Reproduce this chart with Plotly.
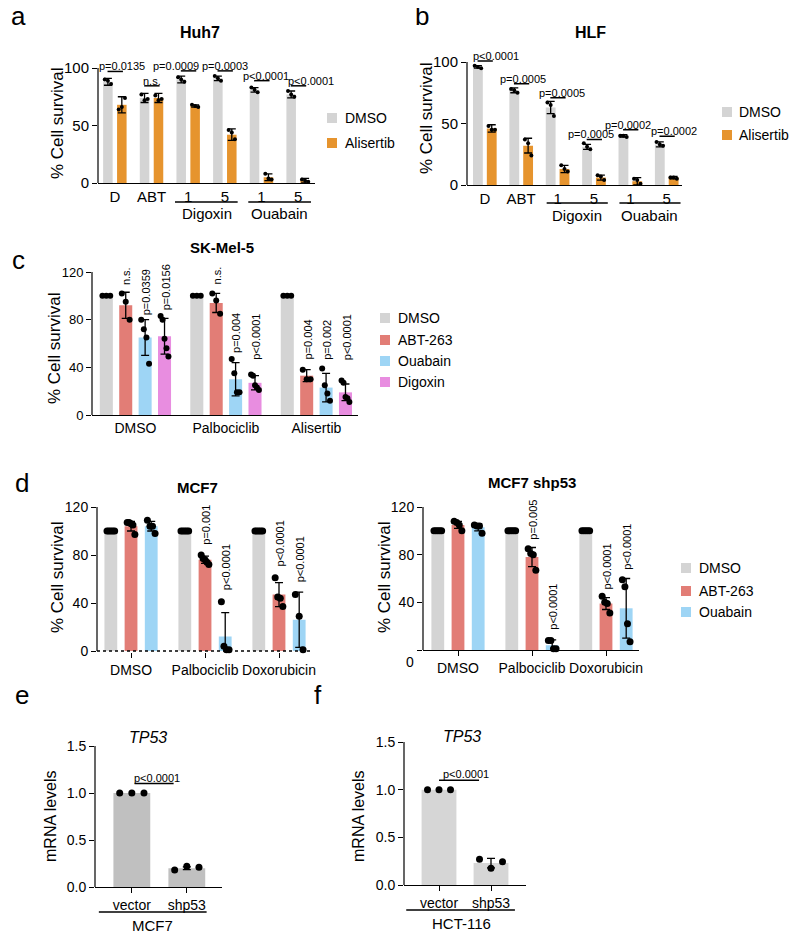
import plotly.graph_objects as go

# ======================= DATA =======================
# Panel a : Huh7
a_ticks = ["D", "ABT", "1", "5", "1", "5"]
a_dmso = [88, 74, 90, 91, 81, 77]
a_dmso_sd = [3, 4, 3, 2, 2, 3]
a_dmso_pts = [[90, 89, 86], [77, 72, 73], [92, 90, 88], [93, 91, 89], [83, 81, 79], [80, 77, 75]]
a_ali = [68, 74, 67, 42, 5, 2]
a_ali_sd = [7, 4, 1, 5, 3, 2]
a_ali_pts = [[64, 66, 74], [76, 72, 73], [68, 67, 66], [46, 44, 38], [8, 4, 3], [3, 2, 1]]
a_pvals = ["p=0.0135", "n.s.", "p=0.0009", "p=0.0003", "p<0.0001", "p<0.0001"]
a_bracket = [97, 84.5, 97.5, 97.5, 89, 84.5]

# Panel b : HLF
b_ticks = ["D", "ABT", "1", "5", "1", "5"]
b_dmso = [96, 77, 63, 31, 40, 33]
b_dmso_sd = [1, 2, 5, 2, 1, 2]
b_dmso_pts = [[97, 96, 95], [78, 77, 75], [67, 65, 56], [34, 31, 29], [40, 40, 39], [35, 33, 32]]
b_ali = [46, 32, 13, 6, 3, 6]
b_ali_sd = [3, 6, 3, 2, 3, 1]
b_ali_pts = [[48, 45, 45], [37, 34, 24], [16, 13, 11], [8, 7, 4], [5, 4, 1], [6, 6, 5]]
b_pvals = ["p<0.0001", "p=0.0005", "p=0.0005", "p=0.0005", "p=0.0002", "p=0.0002"]
b_bracket = [100.8, 82.4, 71, 37, 45, 39.7]

# Panel c : SK-Mel-5
c_groups = ["DMSO", "Palbociclib", "Alisertib"]
c_dmso = [100, 100, 100]
c_dmso_pts = [[100, 100, 100], [100, 100, 100], [100, 100, 100]]
c_abt = [92, 94, 33]
c_abt_sd = [11, 8, 5]
c_abt_pts = [[102, 95, 80], [102, 96, 85], [38, 30, 30]]
c_oua = [65, 30, 23]
c_oua_sd = [15, 14, 12]
c_oua_pts = [[80, 72, 65, 43], [47, 35, 19, 19], [39, 25, 18, 12]]
c_dig = [66, 27, 19]
c_dig_sd = [15, 6, 7]
c_dig_pts = [[83, 80, 64, 56, 49], [34, 33, 25, 23, 21], [29, 27, 15, 14, 11]]
c_abt_p = ["n.s.", "n.s.", "p=0.004"]
c_oua_p = ["p=0.0359", "p=0.004", "p=0.002"]
c_dig_p = ["p=0.0156", "p<0.0001", "p<0.0001"]

# Panel d : MCF7 / MCF7 shp53
d_groups = ["DMSO", "Palbociclib", "Doxorubicin"]
d1_dmso = [100, 100, 100]
d1_dmso_pts = [[100] * 5, [100] * 5, [100] * 5]
d1_abt = [104, 76, 47]
d1_abt_sd = [4, 3, 10]
d1_abt_pts = [[107, 107, 106, 105, 97], [80, 77, 76, 74, 72], [61, 45, 44, 37]]
d1_oua = [104, 12, 26]
d1_oua_sd = [4, 20, 23]
d1_oua_pts = [[109, 104, 104, 98], [41, 4, 1, 1], [47, 29, 1]]
d1_abt_p = ["", "p=0.001", "p<0.0001"]
d1_oua_p = ["", "p<0.0001", "p<0.0001"]

d2_dmso = [100, 100, 100]
d2_dmso_pts = [[100] * 5, [100] * 5, [100] * 5]
d2_abt = [105, 78, 39]
d2_abt_sd = [3, 8, 5]
d2_abt_pts = [[108, 107, 105, 100], [85, 81, 80, 67], [45, 40, 39, 31]]
d2_oua = [103, 4, 35]
d2_oua_sd = [3, 4.5, 25]
d2_oua_pts = [[105, 104, 104, 98], [8, 8, 1, 1], [59, 53, 22, 7]]
d2_abt_p = ["", "p=0.005", "p<0.0001"]
d2_oua_p = ["", "p<0.0001", "p<0.0001"]

# Panel e / f : TP53 mRNA
ef_groups = ["vector", "shp53"]
e_vals = [1.0, 0.20]
e_sd = [0, 0.015]
e_pts = [[1.0, 1.0, 1.0], [0.18, 0.22, 0.21]]
f_vals = [1.0, 0.23]
f_sd = [0, 0.05]
f_pts = [[1.0, 1.0, 1.0], [0.27, 0.175, 0.245]]

# ======================= STYLE / LAYOUT =======================
OFF = 8                      # page body margin of the html page
W, H = 800 - 2 * OFF, 942 - 2 * OFF
FONT = "Arial, Liberation Sans, Helvetica, sans-serif"
GRAY = "#d4d4d4"
ORANGE = "#e6942e"
RED = "#e27d76"
BLUE = "#9ed5f5"
PINK = "#e88de0"
GRAY_E = "#c0c0c0"
GRAY_F = "#d6d6d6"

fig = go.Figure()
layout = dict(template="none", width=W, height=H,
              margin=dict(l=0, r=0, t=0, b=0, pad=0, autoexpand=False),
              paper_bgcolor="white", plot_bgcolor="white", barmode="overlay",
              font=dict(family=FONT, color="black"), showlegend=False)
shapes, annotations = [], []


def px(p):
    return (p - OFF) / W


def py(p):
    return 1 - (p - OFF) / H


def names(i):
    s = "" if i == 1 else str(i)
    return "x" + s, "y" + s, "xaxis" + s, "yaxis" + s


def setup_axes(i, xpx, y0px, ytpx, ytop, yrange, xrange, tickvals, ticktext, yticks,
               yticktext=None, ysize=14, xsize=14, xticks=False, xline=True, ytickformat=None):
    xn, yn, xk, yk = names(i)
    ppu = (y0px - ytpx) / ytop
    bot = y0px - yrange[0] * ppu
    top = y0px - yrange[1] * ppu
    layout[xk] = dict(domain=[px(xpx[0]), px(xpx[1])], range=xrange, anchor=yn,
                      showline=xline, linecolor="black", linewidth=1.2,
                      ticks="outside" if xticks else "", ticklen=5, tickwidth=1.2,
                      tickcolor="black", tickvals=tickvals, ticktext=ticktext,
                      tickfont=dict(size=xsize, color="black"), showgrid=False,
                      zeroline=False, fixedrange=True, automargin=False)
    layout[yk] = dict(domain=[py(bot), py(top)], range=yrange, anchor=xn,
                      showline=False, ticks="outside", ticklen=5, tickwidth=1.2,
                      tickcolor="black", tickvals=yticks, ticktext=yticktext,
                      tickfont=dict(size=ysize, color="black"), showgrid=False,
                      zeroline=False, fixedrange=True, tickformat=ytickformat,
                      automargin=False)
    shapes.append(dict(type="line", xref=xn + " domain", x0=0, x1=0, yref=yn,
                       y0=0, y1=yticks[-1], line=dict(color="black", width=1.2)))


def add_series(i, xs, vals, sd, pts, color, name, width, ms, spread=0.33):
    xn, yn, _, _ = names(i)
    err = None
    if sd is not None:
        err = dict(type="data", array=sd, visible=True, color="black",
                   thickness=1.3, width=4)
    fig.add_trace(go.Bar(x=xs, y=vals, width=width,
                         marker=dict(color=color, line=dict(width=0)),
                         error_y=err, name=name, showlegend=False,
                         xaxis=xn, yaxis=yn, hoverinfo="skip"))
    pxs, pys = [], []
    for x, p in zip(xs, pts):
        n = len(p)
        for k, v in enumerate(p):
            off = 0 if n == 1 else (-spread + 2 * spread * k / (n - 1)) * width
            pxs.append(x + off)
            pys.append(v)
    fig.add_trace(go.Scatter(x=pxs, y=pys, mode="markers",
                             marker=dict(color="black", size=ms),
                             showlegend=False, xaxis=xn, yaxis=yn,
                             cliponaxis=False, hoverinfo="skip"))


def ann(text, x, y, xref="paper", yref="paper", size=14, **kw):
    d = dict(text=text, x=x, y=y, xref=xref, yref=yref, showarrow=False,
             xanchor="center", yanchor="middle",
             font=dict(size=size, family=FONT, color="black"))
    d.update(kw)
    annotations.append(d)


def ytitle(text, xpx, ypx, size=17):
    ann(text, px(xpx), py(ypx), size=size, textangle=-90)


def legend_box(sq_left, ys, labels, colors, size=14, sq=10, gap=6):
    for yc, lbl, col in zip(ys, labels, colors):
        shapes.append(dict(type="rect", xref="paper", yref="paper",
                           x0=px(sq_left), x1=px(sq_left + sq),
                           y0=py(yc + sq / 2), y1=py(yc - sq / 2),
                           fillcolor=col, line=dict(width=0)))
        ann(lbl, px(sq_left + sq + gap), py(yc), size=size, xanchor="left")


# ---------- panel a ----------
xa = list(range(len(a_ticks)))
setup_axes(1, (98, 315), 183, 68, 100, [0, 100], [-0.46, 5.46], xa, a_ticks,
           [0, 50, 100], ysize=15, xsize=15)
add_series(1, [x - 0.19 for x in xa], a_dmso, a_dmso_sd, a_dmso_pts, GRAY, "DMSO", 0.26, 4)
add_series(1, [x + 0.19 for x in xa], a_ali, a_ali_sd, a_ali_pts, ORANGE, "Alisertib", 0.26, 4)
a_xshift = [7, 0, -13, 0, 4, 12]
for x, t, yb, xs in zip(xa, a_pvals, a_bracket, a_xshift):
    shapes.append(dict(type="line", xref="x", yref="y", x0=x - 0.2, x1=x + 0.22,
                       y0=yb, y1=yb, line=dict(color="black", width=1.5)))
    ann(t, x + 0.01, yb, "x", "y", size=11, yanchor="bottom", xshift=xs, yshift=-3)
for lbl, c0, c1 in [("Digoxin", 2, 3), ("Ouabain", 4, 5)]:
    shapes.append(dict(type="line", xref="x", yref="paper", x0=c0 - 0.36, x1=c1 + 0.35,
                       y0=py(202), y1=py(202), line=dict(color="black", width=1.5)))
    ann(lbl, (c0 + c1) / 2, py(214), "x", "paper", size=15)
ann("<b>Huh7</b>", px(200), py(32), size=16)
ann("a", px(18), py(16), size=26)
ytitle("% Cell survival", 58, 124)
legend_box(327, [118, 143], ["DMSO", "Alisertib"], [GRAY, ORANGE], size=14)

# ---------- panel b ----------
xb = list(range(len(b_ticks)))
setup_axes(2, (467, 682), 185, 62, 100, [0, 103], [-0.49, 5.42], xb, b_ticks,
           [0, 50, 100], ysize=15, xsize=15)
add_series(2, [x - 0.19 for x in xb], b_dmso, b_dmso_sd, b_dmso_pts, GRAY, "DMSO", 0.27, 4)
add_series(2, [x + 0.19 for x in xb], b_ali, b_ali_sd, b_ali_pts, ORANGE, "Alisertib", 0.27, 4)
b_xshift = [11, 1, 4, -3, -3, 7]
for x, t, yb, xs in zip(xb, b_pvals, b_bracket, b_xshift):
    shapes.append(dict(type="line", xref="x2", yref="y2", x0=x - 0.2, x1=x + 0.22,
                       y0=yb, y1=yb, line=dict(color="black", width=1.5)))
    ann(t, x + 0.01, yb, "x2", "y2", size=11, yanchor="bottom", xshift=xs, yshift=-3)
for lbl, c0, c1 in [("Digoxin", 2, 3), ("Ouabain", 4, 5)]:
    shapes.append(dict(type="line", xref="x2", yref="paper", x0=c0 - 0.3, x1=c1 + 0.38,
                       y0=py(203), y1=py(203), line=dict(color="black", width=1.5)))
    ann(lbl, (c0 + c1) / 2 + 0.04, py(215), "x2", "paper", size=15)
ann("<b>HLF</b>", px(590), py(32), size=16)
ann("b", px(422), py(16), size=26)
ytitle("% Cell survival", 427, 119)
legend_box(722, [112, 135], ["DMSO", "Alisertib"], [GRAY, ORANGE], size=14, gap=5)

# ---------- panel c ----------
xc = list(range(len(c_groups)))
dc, wc = 0.2144, 0.144
setup_axes(3, (92, 358), 415, 272, 120, [0, 120], [-0.48, 2.46], xc, c_groups,
           [0, 40, 80, 120], ysize=13, xsize=14)
c_series = [(c_dmso, None, c_dmso_pts, GRAY, "DMSO", None),
            (c_abt, c_abt_sd, c_abt_pts, RED, "ABT-263", c_abt_p),
            (c_oua, c_oua_sd, c_oua_pts, BLUE, "Ouabain", c_oua_p),
            (c_dig, c_dig_sd, c_dig_pts, PINK, "Digoxin", c_dig_p)]
c_label_y = [None, [107, 108, 44.6], [82, 50, 44.6], [86.5, 44.6, 44.6]]
for k, (vals, sd, pts, col, nm, plist) in enumerate(c_series):
    xs = [x + (k - 1.5) * dc for x in xc]
    add_series(3, xs, vals, sd, pts, col, nm, wc, 6, spread=0.3)
    if plist:
        for x, t, yy in zip(xs, plist, c_label_y[k]):
            ann(t, x + 0.01, yy, "x3", "y3", size=11, textangle=-90, yanchor="bottom")
ann("<b>SK-Mel-5</b>", px(222), py(247), size=15)
ann("c", px(18), py(260), size=26)
ytitle("% Cell survival", 54, 349)
legend_box(380, [318, 340, 361, 382], [s[4] for s in c_series],
           [s[3] for s in c_series], size=14)

# ---------- panel d (left) ----------
xd = list(range(len(d_groups)))
dd, wd = 0.273, 0.173
setup_axes(4, (97, 312), 651, 507, 120, [-1.2, 120], [-0.46, 2.446], xd, d_groups,
           [0, 40, 80, 120], ysize=14, xsize=14, xticks=True, xline=False)
shapes.append(dict(type="line", xref="x4 domain", yref="y4", x0=0, x1=1, y0=0, y1=0,
                   line=dict(color="black", width=1.5, dash="dot")))
d1_series = [(d1_dmso, None, d1_dmso_pts, GRAY, None),
             (d1_abt, d1_abt_sd, d1_abt_pts, RED, d1_abt_p),
             (d1_oua, d1_oua_sd, d1_oua_pts, BLUE, d1_oua_p)]
d1_label_y = [None, [0, 86.7, 68.6], [0, 49, 55.5]]
for k, (vals, sd, pts, col, plist) in enumerate(d1_series):
    xs = [x + (k - 1) * dd for x in xd]
    add_series(4, xs, vals, sd, pts, col, "", wd, 7, spread=0.3)
    if plist:
        for x, t, yy in zip(xs, plist, d1_label_y[k]):
            if t:
                ann(t, x + 0.01, yy, "x4", "y4", size=11, textangle=-90, yanchor="bottom")
ann("<b>MCF7</b>", px(197), py(487), size=15)
ann("d", px(22), py(483), size=26)
ytitle("% Cell survival", 57, 578)

# ---------- panel d (right) ----------
setup_axes(5, (423, 639), 650, 507, 120, [0, 120], [-0.473, 2.446], xd, d_groups,
           [0, 40, 80, 120], yticktext=["", "40", "80", "120"], ysize=14, xsize=14,
           xticks=True)
d2_series = [(d2_dmso, None, d2_dmso_pts, GRAY, "DMSO", None),
             (d2_abt, d2_abt_sd, d2_abt_pts, RED, "ABT-263", d2_abt_p),
             (d2_oua, d2_oua_sd, d2_oua_pts, BLUE, "Ouabain", d2_oua_p)]
d2_label_y = [None, [0, 90.7, 48.8], [0, 15.3, 65.6]]
for k, (vals, sd, pts, col, nm, plist) in enumerate(d2_series):
    xs = [x + (k - 1) * dd for x in xd]
    add_series(5, xs, vals, sd, pts, col, nm, wd, 7, spread=0.3)
    if plist:
        for x, t, yy in zip(xs, plist, d2_label_y[k]):
            if t:
                ann(t, x + 0.01, yy, "x5", "y5", size=11, textangle=-90, yanchor="bottom")
ann("0", 0, 0, "x5 domain", "y5", size=14, xanchor="right", xshift=-7, yshift=-12)
ann("<b>MCF7 shp53</b>", px(532), py(483), size=15)
ytitle("% Cell survival", 384, 578)
legend_box(681, [568, 591, 612], [s[4] for s in d2_series],
           [s[3] for s in d2_series], size=14)

# ---------- panel e ----------
xe = [0, 1]
setup_axes(6, (95, 222), 887, 746, 1.5, [0, 1.5], [-0.67, 1.64], xe, ef_groups,
           [0, 0.5, 1.0, 1.5], ysize=14, xsize=14, xticks=True, ytickformat=".1f")
add_series(6, [xe[0]], [e_vals[0]], None, [e_pts[0]], GRAY_E, "", 0.67, 7)
add_series(6, [xe[1]], [e_vals[1]], [e_sd[1]], [e_pts[1]], GRAY_E, "", 0.67, 7)
shapes.append(dict(type="line", xref="x6", yref="y6", x0=0.05, x1=0.76, y0=1.1, y1=1.1,
                   line=dict(color="black", width=1.5)))
ann("p<0.0001", 0.46, 1.1, "x6", "y6", size=11, yanchor="bottom", yshift=-2)
shapes.append(dict(type="line", xref="x6", yref="paper", x0=-0.6, x1=1.36,
                   y0=py(912), y1=py(912), line=dict(color="black", width=1.5)))
ann("MCF7", 0.38, py(925), "x6", "paper", size=15)
ann("<i>TP53</i>", px(148), py(737), size=16)
ann("e", px(22), py(695), size=26)
ytitle("mRNA levels", 50, 816, size=16)

# ---------- panel f ----------
setup_axes(7, (404, 526), 885, 742, 1.5, [0, 1.5], [-0.673, 1.673], xe, ef_groups,
           [0, 0.5, 1.0, 1.5], ysize=14, xsize=14, xticks=True, ytickformat=".1f")
add_series(7, [xe[0]], [f_vals[0]], None, [f_pts[0]], GRAY_F, "", 0.67, 7)
add_series(7, [xe[1]], [f_vals[1]], [f_sd[1]], [f_pts[1]], GRAY_F, "", 0.67, 7)
shapes.append(dict(type="line", xref="x7", yref="y7", x0=0.0, x1=0.77, y0=1.1, y1=1.1,
                   line=dict(color="black", width=1.5)))
ann("p<0.0001", 0.52, 1.1, "x7", "y7", size=11, yanchor="bottom", yshift=-2)
shapes.append(dict(type="line", xref="x7", yref="paper", x0=-0.63, x1=1.46,
                   y0=py(910), y1=py(910), line=dict(color="black", width=1.5)))
ann("HCT-116", 0.44, py(923), "x7", "paper", size=15)
ann("<i>TP53</i>", px(462), py(736), size=16)
ann("f", px(318), py(695), size=26)
ytitle("mRNA levels", 358, 816, size=16)

layout["shapes"] = shapes
layout["annotations"] = annotations
fig.update_layout(**layout)
fig.write_html("out.html")
